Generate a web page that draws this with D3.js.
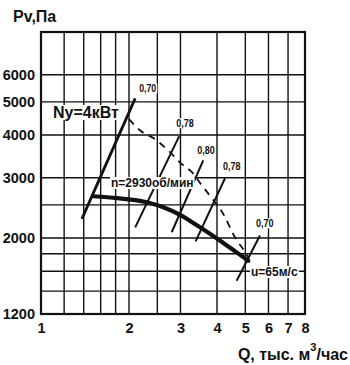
<!DOCTYPE html>
<html>
<head>
<meta charset="utf-8">
<script src="https://cdn.jsdelivr.net/npm/d3@7/dist/d3.min.js"></script>
<style>
  html, body { margin: 0; padding: 0; background: #fff; }
  svg { display: block; font-family: "Liberation Sans", Arial, sans-serif; }
</style>
</head>
<body>
<svg id="chart" width="350" height="365"></svg>
<script>
// Fan characteristic: total pressure Pv vs air flow Q (log-log nomogram)
const qTicks = [1, 2, 3, 4, 5, 6, 7, 8];
const pTicks = [1200, 2000, 3000, 4000, 5000, 6000];
const qGrid = [1.2, 1.4, 1.6, 1.8, 2, 2.5, 3, 4, 5, 6, 7];
const pGrid = [1400, 1600, 1800, 2000, 2500, 3000, 4000, 5000, 6000];

// Pressure curve at n = 2930 rpm
const pressureCurve = [
  [1.51, 2650], [1.82, 2615], [2.30, 2546], [2.62, 2461], [3.0, 2335],
  [3.5, 2150], [4.1, 1965], [4.67, 1816], [5.12, 1717]
];
// Dashed curve
const dashedCurve = [
  [2.0, 4450], [2.18, 4130], [2.47, 3875], [2.72, 3610], [3.01, 3305],
  [3.29, 3110], [3.53, 2870], [3.82, 2630], [4.23, 2330], [4.57, 2035],
  [5.03, 1800], [5.15, 1740]
];
// Power line Ny = 4 kW
const powerLine = [[1.38, 2275], [2.10, 5120]];
const powerEta = "0,70";
// Efficiency lines: start and end points (Q, Pv) and efficiency value
const etaLabels = ["0,78", "0,80", "0,78", "0,70"];
const etaStart = [[2.10, 2150], [2.80, 2080], [3.38, 1955], [4.67, 1500]];
const etaEnd = [[2.97, 3970], [3.59, 3375], [4.26, 2990], [5.61, 2035]];

// Label placement next to line ends (pixels)
const powerEtaOffset = [4, -6];
const etaOffsets = [[-3, -9], [-6, -6], [-2, -8], [-4, -8]];

const svg = d3.select("#chart");
const x = d3.scaleLog().domain([1, 8]).range([41, 305]);
const y = d3.scaleLog().domain([1200, 8000]).range([314, 32]);
const ink = "#111";
const font = "'Liberation Sans', Arial, sans-serif";

// grid
const grid = svg.append("g").attr("stroke", ink).attr("stroke-width", 1.4);
grid.selectAll("line.v").data(qGrid).join("line")
  .attr("x1", d => x(d)).attr("x2", d => x(d))
  .attr("y1", y.range()[0]).attr("y2", y.range()[1]);
grid.selectAll("line.h").data(pGrid).join("line")
  .attr("y1", d => y(d)).attr("y2", d => y(d))
  .attr("x1", x.range()[0]).attr("x2", x.range()[1]);

// frame
svg.append("rect")
  .attr("x", x.range()[0]).attr("y", y.range()[1])
  .attr("width", x.range()[1] - x.range()[0])
  .attr("height", y.range()[0] - y.range()[1])
  .attr("fill", "none").attr("stroke", ink).attr("stroke-width", 2.2);

// axes labels
const xAxis = d3.axisBottom(x).tickValues(qTicks).tickFormat(d3.format("d")).tickSize(0).tickPadding(9);
const gx = svg.append("g").attr("transform", `translate(0,${y.range()[0]})`).call(xAxis);
gx.select(".domain").remove();
gx.selectAll("text").attr("font-size", 14.5).attr("font-weight", "bold")
  .attr("font-family", font).attr("fill", ink);

const yAxis = d3.axisLeft(y).tickValues(pTicks).tickFormat(d3.format("d")).tickSize(0).tickPadding(6);
const gy = svg.append("g").attr("transform", `translate(${x.range()[0]},0)`).call(yAxis);
gy.select(".domain").remove();
gy.selectAll("text").attr("font-size", 14.5).attr("font-weight", "bold")
  .attr("font-family", font).attr("fill", ink);

svg.append("text").attr("x", 13).attr("y", 22)
  .attr("font-size", 16).attr("font-weight", "bold").attr("fill", ink)
  .text("Pv,Па");

const xt = svg.append("text").attr("x", 348).attr("y", 360).attr("text-anchor", "end")
  .attr("font-size", 16).attr("font-weight", "bold").attr("fill", ink);
xt.append("tspan").text("Q, тыс. м");
xt.append("tspan").attr("font-size", 11).attr("dy", -9).text("3");
xt.append("tspan").attr("dy", 9).text("/час");

const line = d3.line().x(d => x(d[0])).y(d => y(d[1]));
const smooth = d3.line().x(d => x(d[0])).y(d => y(d[1])).curve(d3.curveMonotoneX);

// efficiency lines
svg.append("g").selectAll("path").data(etaStart.map((s, i) => [s, etaEnd[i]])).join("path")
  .attr("d", line).attr("fill", "none").attr("stroke", ink).attr("stroke-width", 2);

// dashed curve
svg.append("path").datum(dashedCurve).attr("d", smooth)
  .attr("fill", "none").attr("stroke", ink).attr("stroke-width", 1.8)
  .attr("stroke-dasharray", "7,6");

// power line
svg.append("path").datum(powerLine).attr("d", line)
  .attr("fill", "none").attr("stroke", ink).attr("stroke-width", 2.8);

// pressure curve
svg.append("path").datum(pressureCurve).attr("d", smooth)
  .attr("fill", "none").attr("stroke", ink).attr("stroke-width", 4.2)
  .attr("stroke-linecap", "round");

// text with white backing
function label(px, py, txt, size, opts) {
  opts = opts || {};
  const g = svg.append("g");
  const t = g.append("text").attr("x", px).attr("y", py)
    .attr("font-size", size).attr("font-weight", "bold").attr("fill", ink)
    .text(txt);
  if (opts.width) t.attr("textLength", opts.width).attr("lengthAdjust", "spacingAndGlyphs");
  const b = t.node().getBBox();
  const l = opts.left === undefined ? b.x - 1 : opts.left;
  const r = b.x + b.width + 1;
  g.insert("rect", "text").attr("x", l).attr("y", b.y + 1)
    .attr("width", r - l).attr("height", b.height - 2).attr("fill", "#fff");
  return g;
}

// efficiency values
const pe = powerLine[1];
label(x(pe[0]) + powerEtaOffset[0], y(pe[1]) + powerEtaOffset[1], powerEta, 10.5, {width: 17});
etaEnd.forEach((d, i) => {
  label(x(d[0]) + etaOffsets[i][0], y(d[1]) + etaOffsets[i][1], etaLabels[i], 10.5, {width: 17.5});
});

label(53, 118, "Ny=4кВт", 16, {left: x.range()[0] + 1.5});
label(111, 187, "n=2930об/мин", 12);
label(251, 276, "u=65м/с", 12);
</script>
</body>
</html>
